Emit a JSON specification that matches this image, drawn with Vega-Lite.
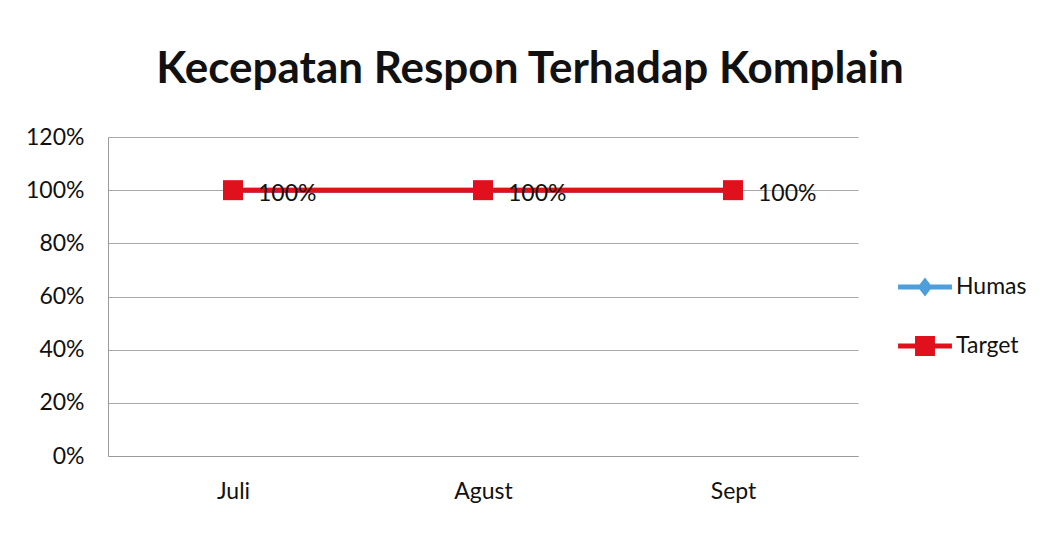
{
  "$schema": "https://vega.github.io/schema/vega-lite/v6.json",
  "width": 750,
  "height": 319,
  "autosize": "none",
  "padding": {"left": 108, "top": 137, "right": 189, "bottom": 77},
  "background": "white",
  "config": {"font": "Lato", "view": {"stroke": null}},
  "title": {"text": "Kecepatan Respon Terhadap Komplain", "fontSize": 44, "fontWeight": "bold", "font": "Lato", "color": "#111111", "offset": 34, "dx": 47},
  "data": {"values": [
    {"bulan": "Juli", "seri": "Humas", "nilai": 1},
    {"bulan": "Agust", "seri": "Humas", "nilai": 1},
    {"bulan": "Sept", "seri": "Humas", "nilai": 1},
    {"bulan": "Juli", "seri": "Target", "nilai": 1},
    {"bulan": "Agust", "seri": "Target", "nilai": 1},
    {"bulan": "Sept", "seri": "Target", "nilai": 1}
  ]},
  "encoding": {
    "x": {"field": "bulan", "type": "ordinal", "sort": ["Juli", "Agust", "Sept"], "scale": {"type": "point", "padding": 0.5},
      "axis": {"title": null, "labelAngle": 0, "labelFontSize": 23, "labelColor": "#111111", "ticks": false, "labelPadding": 24, "domainColor": "#9a9a9a", "grid": false}},
    "y": {"field": "nilai", "type": "quantitative", "scale": {"domain": [0, 1.2]},
      "axis": {"title": null, "values": [0, 0.2, 0.4, 0.6, 0.8, 1.0, 1.2], "format": ".0%", "labelFontSize": 23, "labelColor": "#111111", "ticks": false, "labelPadding": 24, "domainColor": "#9a9a9a", "gridColor": "#a8a8a8", "gridWidth": 1}},
    "color": {"field": "seri", "type": "nominal", "scale": {"domain": ["Humas", "Target"], "range": ["#4d9ed9", "#e0101c"]},
      "legend": {"orient": "none", "legendX": 790, "legendY": 123, "title": null, "labelFontSize": 23, "labelColor": "#111111", "symbolSize": 2900, "rowPadding": 20, "labelOffset": 4,
        "symbolType": "M-1,-0.09H-0.37V-0.37H0.37V-0.09H1V0.09H0.37V0.37H-0.37V0.09H-1Z",
        "encode": {"symbols": {"update": {
          "shape": {"signal": "datum.value === 'Humas' ? 'M-1,-0.09H-0.2L0,-0.35L0.2,-0.09H1V0.09H0.2L0,0.35L-0.2,0.09H-1Z' : 'M-1,-0.09H-0.37V-0.37H0.37V-0.09H1V0.09H0.37V0.37H-0.37V0.09H-1Z'"},
          "fill": {"signal": "datum.value === 'Humas' ? '#4d9ed9' : '#e0101c'"},
          "strokeWidth": {"value": 0},
          "opacity": {"value": 1},
          "fillOpacity": {"value": 1}
        }}}}}
  },
  "layer": [
    {"mark": {"type": "line", "strokeWidth": 5}},
    {"transform": [{"filter": "datum.seri === 'Humas'"}],
      "mark": {"type": "point", "filled": true, "size": 300, "opacity": 1, "shape": "diamond"}},
    {"transform": [{"filter": "datum.seri === 'Target'"}],
      "mark": {"type": "point", "filled": true, "size": 400, "opacity": 1, "shape": "square"}},
    {"transform": [{"filter": "datum.seri === 'Target'"}],
      "mark": {"type": "text", "align": "left", "dx": 25, "dy": 4, "fontSize": 23, "color": "#111111"},
      "encoding": {"text": {"field": "nilai", "type": "quantitative", "format": ".0%"}, "color": {"value": "#111111"}}}
  ]
}
